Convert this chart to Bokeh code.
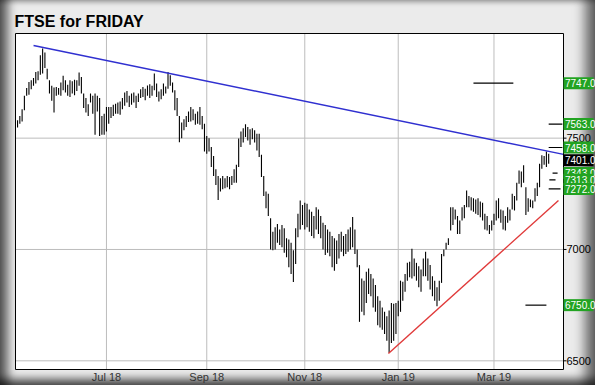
from bokeh.plotting import figure
from bokeh.models import Range1d
from bokeh.embed import file_html
from bokeh.resources import INLINE
from bokeh.core.properties import value

# Daily high / low of FTSE 100 (trading-day index 0 = early May 2018)
highs = [7580, 7600, 7630, 7690, 7725, 7752, 7760, 7770, 7797, 7800,
         7872, 7903, 7885, 7812, 7760, 7735, 7728, 7730, 7725, 7750,
         7780, 7760, 7740, 7760, 7755, 7762, 7760, 7795, 7775, 7700,
         7680, 7652, 7700, 7690, 7700, 7690, 7680, 7600, 7610, 7640,
         7640, 7640, 7650, 7655, 7660, 7665, 7680, 7705, 7712, 7690,
         7700, 7705, 7690, 7700, 7720, 7730, 7722, 7736, 7742, 7735,
         7790, 7745, 7710, 7720, 7745, 7732, 7797, 7782, 7750, 7715,
         7680, 7600, 7570, 7585, 7600, 7620, 7640, 7630, 7610, 7620,
         7640, 7600, 7565, 7510, 7500, 7460, 7420, 7360, 7330, 7320,
         7330, 7320, 7330, 7325, 7330, 7360, 7380, 7498, 7530, 7545,
         7562, 7550, 7540, 7545, 7535, 7520, 7520, 7425, 7330, 7260,
         7250, 7140, 7080, 7100, 7115, 7090, 7110, 7095, 7050, 7045,
         7030, 6996, 7095, 7160, 7220, 7200, 7210, 7205, 7180, 7170,
         7150, 7190, 7180, 7150, 7120, 7110, 7090, 7080, 7060, 7050,
         7040, 7070, 7080, 7060, 7070, 7090, 7100, 7146, 7090, 7000,
         6930, 6870, 6860, 6900, 6915, 6890, 6870, 6840, 6790, 6770,
         6740, 6720, 6700, 6726, 6760, 6756, 6760, 6770, 6860, 6855,
         6890, 6940, 6945, 7003, 6960, 6940, 6925, 6910, 6960, 6990,
         6960, 6930, 6880, 6860, 6830, 6860, 6980, 7000, 7030, 7050,
         7190, 7190, 7180, 7150, 7130, 7190, 7200, 7265, 7240, 7235,
         7230, 7225, 7230, 7215, 7210, 7160, 7150, 7110, 7130, 7160,
         7220, 7230, 7180, 7175, 7150, 7190, 7180, 7250, 7240, 7300,
         7355, 7350, 7378, 7280, 7230, 7225, 7220, 7275, 7300, 7385,
         7423, 7420, 7440, 7430]
lows = [7548, 7565, 7575, 7625, 7690, 7695, 7720, 7735, 7745, 7760,
        7785, 7790, 7815, 7765, 7700, 7668, 7615, 7690, 7695, 7690,
        7715, 7705, 7690, 7685, 7700, 7693, 7712, 7735, 7700, 7635,
        7615, 7600, 7660, 7610, 7515, 7620, 7510, 7515, 7515, 7530,
        7565, 7590, 7600, 7610, 7610, 7605, 7630, 7645, 7660, 7640,
        7650, 7660, 7635, 7662, 7680, 7685, 7670, 7690, 7680, 7690,
        7715, 7685, 7665, 7675, 7690, 7700, 7722, 7735, 7705, 7625,
        7600, 7482, 7500, 7535, 7550, 7572, 7575, 7580, 7560, 7565,
        7560, 7540, 7440, 7430, 7440, 7370, 7330, 7290, 7222, 7260,
        7270, 7275, 7280, 7270, 7290, 7300, 7300, 7370, 7460, 7480,
        7505, 7490, 7470, 7495, 7480, 7445, 7415, 7325, 7240, 7185,
        7150, 7000, 6996, 7000, 7030, 7020, 7010, 6985, 6965, 6920,
        6890, 6854, 6935, 7055, 7090, 7110, 7090, 7100, 7080, 7060,
        7050, 7090, 7070, 7050, 7000, 6975, 6985, 6970, 6920, 6905,
        6935, 6960, 6990, 6970, 6980, 6990, 7000, 7010, 6980, 6920,
        6675, 6720, 6705, 6760, 6800, 6790, 6740, 6720, 6660, 6650,
        6640, 6620, 6590, 6536, 6580, 6590, 6620, 6700, 6720, 6770,
        6810, 6860, 6875, 6870, 6880, 6860, 6830, 6810, 6880, 6880,
        6860, 6820, 6790, 6770, 6745, 6770, 6850, 6970, 7000, 7020,
        7085, 7110, 7135, 7070, 7070, 7130, 7140, 7190, 7190, 7175,
        7170, 7160, 7155, 7145, 7130, 7090, 7085, 7070, 7085, 7110,
        7130, 7140, 7120, 7090, 7085, 7120, 7130, 7180, 7175, 7220,
        7295, 7280, 7300, 7155, 7170, 7190, 7185, 7215, 7240, 7280,
        7363, 7380, 7370, 7385]
bar_index = list(range(len(highs)))

month_ticks = [39, 83, 126, 167, 209]
month_labels = ["Jul 18", "Sep 18", "Nov 18", "Jan 19", "Mar 19"]
price_ticks = [6500, 7000, 7500]
price_labels = ["6500", "7000", "7500"]

# Target levels with their marker spans (bar index)
target_levels = [7747, 7563, 7458, 7343, 7313, 7272, 6750]
target_x0 = [200, 233, 233, 234.7, 233.3, 233, 222.8]
target_x1 = [217.5, 239, 239, 236.9, 236, 238.2, 232]
last_price = 7401

resist_x = [7, 239.5]
resist_y = [7916, 7427]
support_x = [162.7, 237.3]
support_y = [6533, 7220]

# ---- geometry: the whole canvas is the data frame, plot box inside it ----
W, H = 595, 385
BOX_L, BOX_R, BOX_T, BOX_B = 15, 563, 33, 369       # plot box in pixels
X_MIN, X_MAX = -0.9, 239.5                          # bar-index span of the box
Y_MIN, Y_MAX = 6461, 7970                           # price span of the box
SX = (BOX_R - BOX_L) / (X_MAX - X_MIN)
SY = (BOX_B - BOX_T) / (Y_MAX - Y_MIN)


def xi(px):
    return X_MIN + (px - BOX_L) / SX


def yp(py):
    return Y_MAX - (py - BOX_T) / SY


p = figure(width=W, height=H, output_backend="svg", toolbar_location=None,
           x_range=Range1d(xi(0), xi(W)), y_range=Range1d(yp(H), yp(0)),
           min_border=0, x_axis_location=None, y_axis_location=None)
p.grid.visible = False
p.border_fill_color = None
p.background_fill_color = None
p.outline_line_color = None
p.styles = {
    "background-color": "#ebebeb",
    "box-shadow": ("inset 14px 0 10px -6px rgba(0,0,0,0.6), "
                   "inset -16px 0 12px -6px rgba(0,0,0,0.55), "
                   "inset 0 5px 5px -3px rgba(0,0,0,0.25), "
                   "inset 0 -10px 8px -4px rgba(0,0,0,0.65)"),
}

FONT = value("Liberation Sans")

# plot box background
p.quad(left=[X_MIN], right=[X_MAX], bottom=[Y_MIN], top=[Y_MAX],
       fill_color="white", line_color=None)

# grid lines
p.segment(x0=month_ticks, x1=month_ticks, y0=[Y_MIN] * 5, y1=[Y_MAX] * 5,
          line_color="#bdbdbd", line_width=1)
p.segment(x0=[X_MIN] * 3, x1=[X_MAX] * 3, y0=price_ticks, y1=price_ticks,
          line_color="#bdbdbd", line_width=1)

# price bars
p.segment(x0=bar_index, y0=lows, x1=bar_index, y1=highs, line_color="black", line_width=1.1)

# trend lines
p.line(resist_x, resist_y, line_color="#3030d0", line_width=1.4)
p.line(support_x, support_y, line_color="#e03a3a", line_width=1.4)

# target markers
p.segment(x0=target_x0, y0=target_levels, x1=target_x1, y1=target_levels,
          line_color="black", line_width=1.2)

# plot box outline
p.quad(left=[X_MIN], right=[X_MAX], bottom=[Y_MIN], top=[Y_MAX],
       fill_color=None, line_color="black", line_width=1)

# x labels
p.text(x=month_ticks, y=[yp(376)] * 5, text=month_labels, text_font=FONT,
       text_font_size="11px", text_color="#333333", text_align="center",
       text_baseline="middle")

# right axis ticks & labels
p.segment(x0=[X_MAX] * 3, x1=[xi(BOX_R + 3)] * 3, y0=price_ticks, y1=price_ticks,
          line_color="black", line_width=1)
p.text(x=[xi(566)] * 3, y=price_ticks, text=price_labels, text_font=FONT,
       text_font_size="11px", text_color="black", text_align="left",
       text_baseline="middle")

# value boxes on the right
box_half = 6 / SY
boxes = [(v, "#22a322") for v in target_levels[:3]] + [(last_price, "black")] + \
        [(v, "#22a322") for v in target_levels[3:]]
for lv, col in boxes:
    p.quad(left=[X_MAX], right=[xi(593)], bottom=[lv - box_half], top=[lv + box_half],
           fill_color=col, line_color=None)
    p.text(x=[xi(564.5)], y=[lv], text=[f"{lv:.1f}"], text_font=FONT,
           text_font_size="10px", text_color="white", text_align="left",
           text_baseline="middle")

# title
p.text(x=[xi(14)], y=[yp(21)], text=["FTSE for FRIDAY"], text_font=FONT,
       text_font_style="bold", text_font_size="16px", text_color="black",
       text_align="left", text_baseline="middle")

open("out.html", "w").write(file_html(p, INLINE))
